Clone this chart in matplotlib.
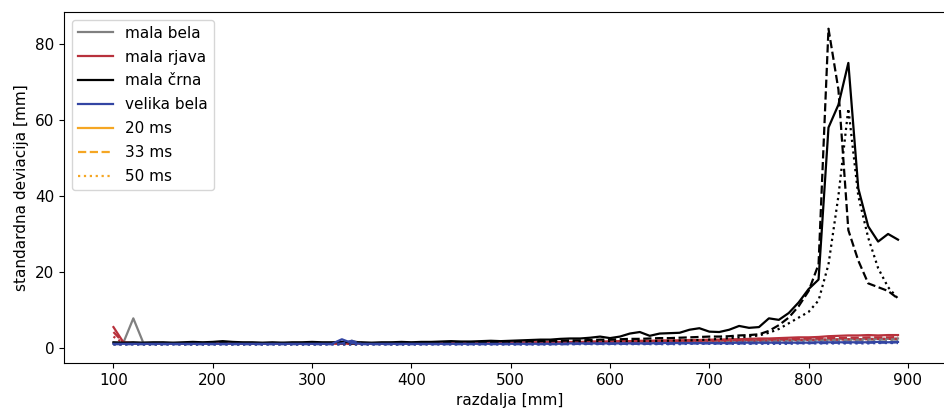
import matplotlib
matplotlib.use("Agg")
import matplotlib.pyplot as plt
from matplotlib.lines import Line2D

plt.rcParams['font.family'] = ['DejaVu Sans']
plt.rcParams['font.size'] = 11

razdalja = list(range(100, 900, 10))  # 100 .. 890

# mala bela (gray)
mb_20 = [1.3, 1.4, 7.8, 1.4, 1.3, 1.2, 1.3, 1.2, 1.2, 1.3,
         1.2, 1.3, 1.2, 1.2, 1.3, 1.2, 1.2, 1.3, 1.2, 1.2,
         1.3, 1.2, 1.3, 1.2, 1.9, 1.3, 1.2, 1.2, 1.3, 1.2,
         1.2, 1.3, 1.2, 1.3, 1.3, 1.2, 1.3, 1.3, 1.4, 1.3,
         1.4, 1.4, 1.4, 1.5, 1.4, 1.5, 1.5, 1.5, 1.6, 1.5,
         1.6, 1.6, 1.6, 1.7, 1.7, 1.7, 1.7, 1.8, 1.8, 1.8,
         1.8, 1.9, 1.9, 1.9, 2.0, 2.0, 2.0, 2.1, 2.1, 2.1,
         2.2, 2.2, 2.2, 2.3, 2.3, 2.3, 2.4, 2.4, 2.4, 2.5]
mb_33 = [1.1, 1.2, 1.1, 1.1, 1.2, 1.1, 1.1, 1.2, 1.1, 1.1,
         1.2, 1.1, 1.1, 1.2, 1.1, 1.1, 1.2, 1.1, 1.1, 1.2,
         1.1, 1.1, 1.2, 1.1, 1.1, 1.2, 1.1, 1.1, 1.2, 1.1,
         1.1, 1.2, 1.2, 1.1, 1.2, 1.2, 1.2, 1.2, 1.3, 1.2,
         1.3, 1.3, 1.3, 1.3, 1.4, 1.4, 1.4, 1.4, 1.5, 1.5,
         1.5, 1.5, 1.6, 1.6, 1.6, 1.6, 1.7, 1.7, 1.7, 1.7,
         1.8, 1.8, 1.8, 1.8, 1.9, 1.9, 1.9, 1.9, 2.0, 2.0,
         2.0, 2.0, 2.1, 2.1, 2.1, 2.1, 2.2, 2.2, 2.2, 2.2]
mb_50 = [1.0, 1.0, 1.1, 1.0, 1.0, 1.0, 1.1, 1.0, 1.0, 1.0,
         1.1, 1.0, 1.0, 1.0, 1.1, 1.0, 1.0, 1.0, 1.1, 1.0,
         1.0, 1.0, 1.1, 1.0, 1.0, 1.0, 1.1, 1.0, 1.0, 1.0,
         1.1, 1.0, 1.1, 1.1, 1.1, 1.1, 1.1, 1.1, 1.2, 1.2,
         1.2, 1.2, 1.2, 1.2, 1.3, 1.3, 1.3, 1.3, 1.3, 1.3,
         1.4, 1.4, 1.4, 1.4, 1.4, 1.5, 1.5, 1.5, 1.5, 1.5,
         1.6, 1.6, 1.6, 1.6, 1.6, 1.7, 1.7, 1.7, 1.7, 1.7,
         1.8, 1.8, 1.8, 1.8, 1.8, 1.9, 1.9, 1.9, 1.9, 1.9]

# mala rjava (red)
mr_20 = [5.5, 1.5, 1.3, 1.2, 1.2, 1.3, 1.2, 1.2, 1.3, 1.2,
         1.3, 1.2, 1.2, 1.3, 1.2, 1.2, 1.3, 1.2, 1.3, 1.2,
         1.3, 1.2, 1.3, 1.2, 1.2, 1.3, 1.2, 1.3, 1.2, 1.2,
         1.3, 1.2, 1.3, 1.3, 1.2, 1.3, 1.3, 1.4, 1.3, 1.4,
         1.4, 1.4, 1.5, 1.5, 1.5, 1.6, 1.6, 1.6, 1.7, 1.7,
         1.7, 1.8, 1.8, 1.9, 1.9, 2.0, 2.0, 2.0, 2.1, 2.1,
         2.2, 2.2, 2.3, 2.3, 2.4, 2.5, 2.5, 2.6, 2.7, 2.8,
         2.8, 2.9, 3.1, 3.2, 3.3, 3.3, 3.4, 3.3, 3.4, 3.4]
mr_33 = [4.2, 1.4, 1.2, 1.2, 1.1, 1.2, 1.2, 1.1, 1.2, 1.2,
         1.2, 1.1, 1.2, 1.2, 1.1, 1.2, 1.2, 1.2, 1.1, 1.2,
         1.2, 1.2, 1.1, 1.2, 1.2, 1.2, 1.2, 1.1, 1.2, 1.2,
         1.2, 1.2, 1.2, 1.2, 1.3, 1.3, 1.3, 1.3, 1.3, 1.3,
         1.4, 1.4, 1.4, 1.4, 1.5, 1.5, 1.5, 1.5, 1.6, 1.6,
         1.6, 1.7, 1.7, 1.7, 1.8, 1.8, 1.8, 1.9, 1.9, 1.9,
         2.0, 2.0, 2.1, 2.1, 2.2, 2.2, 2.3, 2.3, 2.4, 2.4,
         2.5, 2.5, 2.6, 2.6, 2.7, 2.7, 2.8, 2.8, 2.8, 2.9]
mr_50 = [3.0, 1.3, 1.1, 1.1, 1.1, 1.1, 1.1, 1.1, 1.1, 1.1,
         1.1, 1.1, 1.1, 1.1, 1.1, 1.1, 1.1, 1.1, 1.1, 1.1,
         1.1, 1.1, 1.1, 1.1, 1.1, 1.1, 1.1, 1.1, 1.1, 1.1,
         1.1, 1.1, 1.2, 1.2, 1.2, 1.2, 1.2, 1.2, 1.2, 1.2,
         1.3, 1.3, 1.3, 1.3, 1.3, 1.4, 1.4, 1.4, 1.4, 1.5,
         1.5, 1.5, 1.5, 1.6, 1.6, 1.6, 1.6, 1.7, 1.7, 1.7,
         1.8, 1.8, 1.8, 1.9, 1.9, 1.9, 2.0, 2.0, 2.0, 2.1,
         2.1, 2.2, 2.2, 2.2, 2.3, 2.3, 2.3, 2.4, 2.4, 2.4]

# mala crna (black)
mc_20 = [1.5, 1.4, 1.5, 1.4, 1.5, 1.5, 1.4, 1.5, 1.6, 1.5,
         1.6, 1.8, 1.6, 1.5, 1.5, 1.4, 1.5, 1.4, 1.5, 1.5,
         1.6, 1.5, 1.5, 1.6, 1.5, 1.5, 1.4, 1.5, 1.5, 1.6,
         1.5, 1.6, 1.6, 1.7, 1.8, 1.7, 1.7, 1.8, 1.9, 1.8,
         1.9, 2.0, 2.1, 2.2, 2.2, 2.4, 2.5, 2.5, 2.7, 3.0,
         2.6, 3.0, 3.8, 4.2, 3.2, 3.8, 3.9, 4.0, 4.8, 5.2,
         4.3, 4.2, 4.8, 5.8, 5.3, 5.5, 7.8, 7.4, 9.2, 12.0,
         15.5, 18.0, 58.0, 64.0, 75.0, 42.0, 32.0, 28.0, 30.0, 28.5]
mc_33 = [1.2, 1.2, 1.3, 1.2, 1.2, 1.3, 1.2, 1.2, 1.3, 1.2,
         1.3, 1.3, 1.2, 1.2, 1.3, 1.2, 1.2, 1.3, 1.2, 1.2,
         1.3, 1.2, 1.2, 1.3, 1.2, 1.3, 1.2, 1.2, 1.3, 1.3,
         1.3, 1.3, 1.4, 1.4, 1.4, 1.5, 1.5, 1.5, 1.6, 1.6,
         1.7, 1.7, 1.8, 1.8, 1.9, 1.9, 2.0, 2.0, 2.1, 2.2,
         2.2, 2.3, 2.4, 2.4, 2.5, 2.6, 2.6, 2.7, 2.8, 2.9,
         3.0, 3.0, 3.1, 3.3, 3.4, 3.6, 4.5, 6.0, 8.0, 11.0,
         15.0, 22.0, 84.0, 68.0, 31.0, 23.0, 17.0, 16.0, 15.0, 13.0]
mc_50 = [1.0, 1.0, 1.1, 1.0, 1.0, 1.0, 1.1, 1.0, 1.0, 1.0,
         1.0, 1.1, 1.0, 1.0, 1.0, 1.0, 1.1, 1.0, 1.0, 1.0,
         1.0, 1.0, 1.1, 1.0, 1.0, 1.0, 1.0, 1.1, 1.0, 1.0,
         1.0, 1.1, 1.1, 1.1, 1.1, 1.2, 1.2, 1.2, 1.3, 1.3,
         1.3, 1.4, 1.4, 1.4, 1.5, 1.5, 1.5, 1.6, 1.6, 1.7,
         1.7, 1.7, 1.8, 1.8, 1.8, 1.9, 1.9, 2.0, 2.0, 2.1,
         2.2, 2.4, 2.6, 2.8, 3.0, 3.3, 4.0, 5.0, 6.5, 8.0,
         9.5, 12.5, 22.0, 40.0, 63.0, 40.0, 29.0, 21.0, 16.0, 13.0]

# velika bela (blue)
vb_20 = [1.1, 1.1, 1.1, 1.1, 1.1, 1.1, 1.1, 1.1, 1.1, 1.1,
         1.1, 1.1, 1.1, 1.1, 1.1, 1.1, 1.1, 1.1, 1.1, 1.1,
         1.1, 1.1, 1.1, 2.3, 1.3, 1.1, 1.1, 1.1, 1.1, 1.1,
         1.1, 1.1, 1.1, 1.1, 1.1, 1.1, 1.1, 1.1, 1.1, 1.1,
         1.1, 1.1, 1.1, 1.1, 1.1, 1.1, 1.2, 1.2, 1.2, 1.2,
         1.2, 1.2, 1.2, 1.2, 1.2, 1.3, 1.3, 1.3, 1.3, 1.3,
         1.3, 1.3, 1.3, 1.4, 1.4, 1.4, 1.4, 1.4, 1.4, 1.4,
         1.4, 1.5, 1.5, 1.5, 1.5, 1.5, 1.5, 1.6, 1.5, 1.6]
vb_33 = [1.0, 1.0, 1.0, 1.0, 1.0, 1.0, 1.0, 1.0, 1.0, 1.0,
         1.0, 1.0, 1.0, 1.0, 1.0, 1.0, 1.0, 1.0, 1.0, 1.0,
         1.0, 1.0, 1.0, 1.2, 1.9, 1.0, 1.0, 1.0, 1.0, 1.0,
         1.0, 1.0, 1.0, 1.0, 1.0, 1.0, 1.0, 1.0, 1.0, 1.0,
         1.0, 1.0, 1.0, 1.0, 1.0, 1.0, 1.0, 1.1, 1.1, 1.1,
         1.1, 1.1, 1.1, 1.1, 1.1, 1.1, 1.1, 1.2, 1.2, 1.2,
         1.2, 1.2, 1.2, 1.2, 1.2, 1.3, 1.3, 1.3, 1.3, 1.3,
         1.3, 1.3, 1.3, 1.4, 1.4, 1.4, 1.4, 1.4, 1.4, 1.5]
vb_50 = [0.9, 0.9, 0.9, 0.9, 0.9, 0.9, 0.9, 0.9, 0.9, 0.9,
         0.9, 0.9, 0.9, 0.9, 0.9, 0.9, 0.9, 0.9, 0.9, 0.9,
         0.9, 0.9, 0.9, 0.9, 0.9, 0.9, 0.9, 0.9, 0.9, 0.9,
         0.9, 0.9, 0.9, 0.9, 0.9, 0.9, 0.9, 0.9, 0.9, 0.9,
         0.9, 0.9, 0.9, 0.9, 0.9, 1.0, 1.0, 1.0, 1.0, 1.0,
         1.0, 1.0, 1.0, 1.0, 1.0, 1.0, 1.0, 1.0, 1.1, 1.1,
         1.1, 1.1, 1.1, 1.1, 1.1, 1.1, 1.1, 1.1, 1.1, 1.2,
         1.2, 1.2, 1.2, 1.2, 1.2, 1.2, 1.2, 1.3, 1.3, 1.3]

objekti = ["mala bela", "mala rjava", "mala črna", "velika bela"]
barve = ["#808080", "#b8313c", "#000000", "#3345a3"]
casi = ["20 ms", "33 ms", "50 ms"]
stili = ["-", "--", ":"]
podatki = [[mb_20, mb_33, mb_50],
           [mr_20, mr_33, mr_50],
           [mc_20, mc_33, mc_50],
           [vb_20, vb_33, vb_50]]

W, H = 945, 415
fig = plt.figure(figsize=(W / 100, H / 100), dpi=100)
ax = fig.add_axes([64 / W, 52 / H, (956 - 64) / W, (363 - 12) / H])

for serije, barva in zip(podatki, barve):
    for vrednosti, stil in zip(serije, stili):
        ax.plot(razdalja, vrednosti, color=barva, linestyle=stil, linewidth=1.6)

handles = [Line2D([0], [0], color=b, linestyle="-", linewidth=1.6) for b in barve]
handles += [Line2D([0], [0], color="#f5a623", linestyle=s, linewidth=1.6) for s in stili]
labels = objekti + casi
ax.legend(handles, labels, loc="upper left", handlelength=2.3, labelspacing=0.58)

ax.set_xlim(50.2, 948.4)
ax.set_ylim(-3.95, 88.4)
ax.set_xticks(range(100, 1000, 100))
ax.set_yticks([0, 20, 40, 60, 80])
ax.set_xlabel("razdalja [mm]")
ax.set_ylabel("standardna deviacija [mm]")

fig.savefig("out.png", dpi=100)
